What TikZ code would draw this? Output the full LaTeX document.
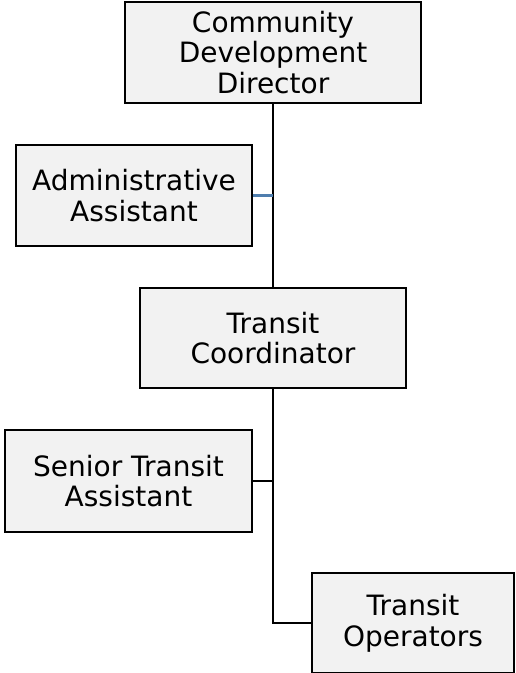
\documentclass[tikz,border=0pt]{standalone}
\usepackage{fontspec}
\setmainfont{DejaVu Sans}
\usepackage{xcolor}
\usepackage{tikz}
\usetikzlibrary{positioning}
\definecolor{boxgray}{HTML}{F2F2F2}
\definecolor{linkblue}{HTML}{4F7EAE}
\tikzset{
  orgbox/.style={draw=black, line width=2.6pt, fill=boxgray, align=center, inner sep=0pt,
    font=\fontsize{28}{30.7}\selectfont},
  orgline/.style={black, line width=2.2pt},
}
\begin{document}
\begin{tikzpicture}[x=1pt,y=-1pt]
\useasboundingbox (0,0) rectangle (515,673);
\node[orgbox, minimum width=296pt, minimum height=101pt] (director) at (273,52.5) {Community\\Development\\Director};
\node[orgbox, minimum width=236pt, minimum height=101pt] (admin) at (134,195.5) {Administrative\\Assistant};
\node[orgbox, minimum width=266pt, minimum height=100pt] (coord) at (273,338) {Transit\\Coordinator};
\node[orgbox, minimum width=247pt, minimum height=102pt] (senior) at (128.5,481) {Senior Transit\\Assistant};
\node[orgbox, minimum width=202pt, minimum height=100pt] (operators) at (413,623) {Transit\\Operators};
\draw[orgline] (director.south) -- (coord.north);
\draw[linkblue, line width=2.2pt] (admin.east) -- (admin.east -| director.south);
\draw[orgline] (coord.south) |- (operators.west);
\draw[orgline] (senior.east) -- (senior.east -| coord.south);
\end{tikzpicture}
\end{document}
